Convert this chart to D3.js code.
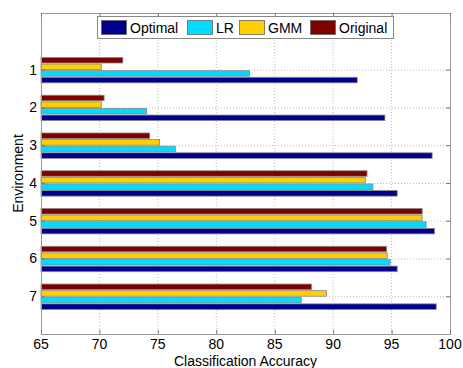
<!DOCTYPE html>
<html>
<head>
<meta charset="utf-8">
<style>
  body { margin: 0; background: #fff; }
  svg { font-family: "Liberation Sans", Arial, sans-serif; }
  .grid line { stroke: #bbb; stroke-dasharray: 1,2; stroke-width: 1; }
</style>
<script src="https://cdn.jsdelivr.net/npm/d3@7"></script>
</head>
<body>
<script>
var width = 463, height = 368;
var margin = {left: 41, right: 13, top: 13, bottom: 34};

// data
var environments = [1, 2, 3, 4, 5, 6, 7];
var seriesNames = ["Optimal", "LR", "GMM", "Original"];
var colors = ["#00008f", "#00dcff", "#ffcf00", "#800000"];
var optimal  = [92.06, 94.43, 98.47, 95.48, 98.68, 95.48, 98.82];
var lr       = [82.85, 74.04, 76.50, 93.40, 97.96, 94.88, 87.27];
var gmm      = [70.16, 70.16, 75.15, 92.75, 97.62, 94.63, 89.43];
var original = [72.00, 70.40, 74.30, 92.90, 97.62, 94.57, 88.15];
var xTicks = [65, 70, 75, 80, 85, 90, 95, 100];

var series = [optimal, lr, gmm, original];

var svg = d3.select("body").append("svg")
  .attr("width", width).attr("height", height);

var x = d3.scaleLinear().domain([65, 100])
  .range([margin.left, width - margin.right]);
var y = d3.scaleLinear().domain([-0.5, 8])
  .range([margin.top, height - margin.bottom]);

var x0 = x.range()[0], x1 = x.range()[1];
var y0 = y.range()[0], y1 = y.range()[1];

// grid
var grid = svg.append("g").attr("class", "grid");
grid.selectAll(".gx").data(xTicks.slice(1, -1)).enter().append("line")
  .attr("x1", d => x(d)).attr("x2", d => x(d))
  .attr("y1", y0).attr("y2", y1);
grid.selectAll(".gy").data(environments).enter().append("line")
  .attr("x1", x0).attr("x2", x1)
  .attr("y1", d => y(d) + 0.5).attr("y2", d => y(d) + 0.5);

// bars: slot for each series, Optimal at the bottom of each group
var unit = y(1) - y(0);
var slot = unit * 0.175;
var barH = slot * 0.84;
var bars = svg.append("g");
series.forEach(function(vals, si) {
  bars.selectAll(".s" + si).data(vals).enter().append("rect")
    .attr("x", x0)
    .attr("y", (d, i) => y(environments[i]) + (1.5 - si) * slot - barH / 2 + 0.5)
    .attr("width", d => x(d) - x0)
    .attr("height", barH)
    .attr("fill", colors[si])
    .attr("stroke", "#888")
    .attr("stroke-width", 0.8);
});

// axes box
svg.append("rect")
  .attr("x", x0 + 0.5).attr("y", y0 + 0.5)
  .attr("width", x1 - x0).attr("height", y1 - y0)
  .attr("fill", "none").attr("stroke", "#999").attr("stroke-width", 1);

// ticks (inward, both sides)
var tk = svg.append("g").attr("stroke", "#777");
xTicks.forEach(function(t) {
  tk.append("line").attr("x1", x(t) + 0.5).attr("x2", x(t) + 0.5).attr("y1", y1).attr("y2", y1 - 4);
  tk.append("line").attr("x1", x(t) + 0.5).attr("x2", x(t) + 0.5).attr("y1", y0).attr("y2", y0 + 4);
});
environments.forEach(function(e) {
  tk.append("line").attr("x1", x0).attr("x2", x0 + 4).attr("y1", y(e) + 0.5).attr("y2", y(e) + 0.5);
  tk.append("line").attr("x1", x1).attr("x2", x1 - 4).attr("y1", y(e) + 0.5).attr("y2", y(e) + 0.5);
});

// tick labels
svg.append("g").selectAll("text").data(xTicks).enter().append("text")
  .attr("x", d => x(d)).attr("y", y1 + 15)
  .attr("text-anchor", "middle").attr("font-size", 14).text(d => d);
svg.append("g").selectAll("text").data(environments).enter().append("text")
  .attr("x", x0 - 4).attr("y", d => y(d) + 5)
  .attr("text-anchor", "end").attr("font-size", 14).text(d => d);

// axis labels
svg.append("text").attr("x", (x0 + x1) / 2).attr("y", 366)
  .attr("text-anchor", "middle").attr("font-size", 14).text("Classification Accuracy");
svg.append("text").attr("transform", "translate(23," + ((y0 + y1) / 2) + ") rotate(-90)")
  .attr("text-anchor", "middle").attr("font-size", 14).text("Environment");

// legend
var lg = svg.append("g");
lg.append("rect").attr("x", 97.5).attr("y", 16.5).attr("width", 296).attr("height", 22)
  .attr("fill", "#fff").attr("stroke", "#888");
var legX = [101, 187, 239, 310];
seriesNames.forEach(function(n, i) {
  lg.append("rect").attr("x", legX[i] + 0.5).attr("y", 20.5).attr("width", 25).attr("height", 14)
    .attr("fill", colors[i]).attr("stroke", "#666").attr("stroke-width", 0.8);
  lg.append("text").attr("x", legX[i] + 29).attr("y", 32.5)
    .attr("font-size", 14).text(n);
});
</script>
</body>
</html>
